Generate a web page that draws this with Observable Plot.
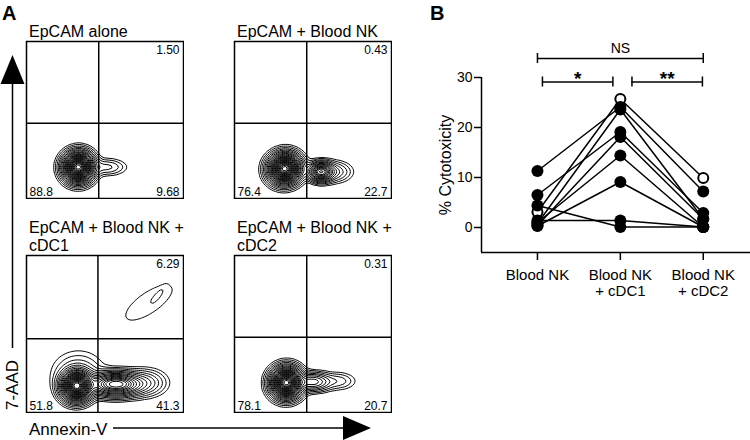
<!DOCTYPE html>
<html><head><meta charset="utf-8">
<script src="https://cdn.jsdelivr.net/npm/d3@7"></script>
<script src="https://cdn.jsdelivr.net/npm/@observablehq/plot@0.6"></script>
<style>
body{margin:0;background:#fff}
#fig{position:relative;width:750px;height:440px;overflow:hidden;font-family:"Liberation Sans",Arial,sans-serif;background:#fff}
#fig > svg{position:absolute}
</style></head>
<body><div id="fig"></div>
<script>
// ---------- Panel A data ----------
const panelTitles = [["EpCAM alone"], ["EpCAM + Blood NK"], ["EpCAM + Blood NK +", "cDC1"], ["EpCAM + Blood NK +", "cDC2"]];
const pctUpperRight = ["1.50", "0.43", "6.29", "0.31"];
const pctLowerLeft = ["88.8", "76.4", "51.8", "78.1"];
const pctLowerRight = ["9.68", "22.7", "41.3", "20.7"];
const gateAnnexin = [0.46, 0.46, 0.455, 0.46];   // quadrant gate (relative Annexin-V)
const gate7AAD = [0.48, 0.48, 0.47, 0.48];       // quadrant gate (relative 7-AAD)
// cell populations: [annexin, 7aad, spreadX, spreadY, weight, angle]
const popsAlone = [[0.33, 0.20, 0.048, 0.047, 1, 0.3], [0.51, 0.20, 0.065, 0.028, 0.035, 0]];
const popsNK = [[0.32, 0.19, 0.051, 0.047, 1, 0.2], [0.55, 0.17, 0.04, 0.03, 0.4, 0], [0.63, 0.17, 0.06, 0.035, 0.05, 0]];
const popsCDC1 = [[0.32, 0.17, 0.049, 0.047, 1, 0.2], [0.57, 0.18, 0.09, 0.038, 0.45, 0], [0.33, 0.25, 0.09, 0.075, 0.03, 0],
                  [0.76, 0.19, 0.07, 0.045, 0.05, 0], [0.78, 0.70, 0.16, 0.06, 0.009, 0.6], [0.84, 0.75, 0.04, 0.012, 0.006, 0.9]];
const popsCDC2 = [[0.33, 0.19, 0.049, 0.048, 1, 0.3], [0.5, 0.195, 0.06, 0.03, 0.14, 0], [0.66, 0.2, 0.06, 0.03, 0.025, 0]];
const populations = [popsAlone, popsNK, popsCDC1, popsCDC2];

// ---------- Panel B data ----------
const groups = ["Blood NK", "Blood NK\n+ cDC1", "Blood NK\n+ cDC2"];
const bloodNK  = [3.1, 11.3, 0.8, 6.5, 0.4, 1.0, 0.3, 4.4, 1.4];
const withCDC1 = [25.7, 24.1, 23.6, 19.1, 18.1, 14.4, 9.1, 0.1, 1.4];
const withCDC2 = [9.9, 7.2, 1.7, 2.9, 1.7, 0.1, 0.1, 0.1, 0.1];
const openDonor = [true, false, false, false, false, false, false, false, false];
const comparisons = [[0, 2, "NS"], [0, 1, "*"], [1, 2, "**"]];
const yTicks = [0, 10, 20, 30];

const fig = document.getElementById("fig");
const FONT = '"Liberation Sans", Arial, sans-serif';

// ---------- Panel A: contour plots ----------
const boxes = [[26, 41], [234, 41], [26, 255], [234, 255]];
const BOX = 157;
const T = [0.005, 0.01, 0.018, 0.03, 0.045, 0.065, 0.09, 0.12, 0.15, 0.19, 0.23, 0.27, 0.31, 0.35, 0.4, 0.45,
           0.5, 0.55, 0.6, 0.65, 0.7, 0.75, 0.8, 0.85, 0.9, 0.95];

populations.forEach((pops, i) => {
  const field = (x, y) => pops.reduce((s, [cx, cy, sx, sy, w, a]) => {
    const c = Math.cos(a), sn = Math.sin(a), dx = x - cx, dy = y - cy;
    const u = dx * c + dy * sn, v = -dx * sn + dy * c;
    return s + w * Math.exp(-0.5 * (u * u / (sx * sx) + v * v / (sy * sy)));
  }, 0);
  const svg = Plot.plot({
    width: BOX + 2, height: BOX + 2, margin: 1,
    style: {fontFamily: FONT, background: "transparent"},
    x: {domain: [0, 1], axis: null},
    y: {domain: [0, 1], axis: null},
    marks: [
      Plot.contour({x1: 0, y1: 0, x2: 1, y2: 1, value: field, thresholds: T, stroke: "black", strokeWidth: 1, fill: "none"}),
      Plot.ruleX([gateAnnexin[i]], {stroke: "black", strokeWidth: 1.5}),
      Plot.ruleY([gate7AAD[i]], {stroke: "black", strokeWidth: 1.5}),
      Plot.frame({stroke: "black", strokeWidth: 1.5}),
      Plot.text([pctUpperRight[i]], {frameAnchor: "top-right", dx: -4, dy: 4, fontSize: 12, fill: "black"}),
      Plot.text([pctLowerLeft[i]], {frameAnchor: "bottom-left", dx: 3, dy: -3, fontSize: 12, fill: "black", lineAnchor: "bottom"}),
      Plot.text([pctLowerRight[i]], {frameAnchor: "bottom-right", dx: -4, dy: -3, fontSize: 12, fill: "black", lineAnchor: "bottom"})
    ]
  });
  svg.style.left = (boxes[i][0] - 1) + "px";
  svg.style.top = (boxes[i][1] - 1) + "px";
  svg.style.position = "absolute";
  fig.appendChild(svg);
});

// ---------- Panel B: paired dot plot ----------
const rows = [];
[bloodNK, withCDC1, withCDC2].forEach((vals, g) => vals.forEach((v, d) => rows.push({donor: d, g, v, open: openDonor[d]})));
const xDom = [-0.675, 2.57];
const yBase = -5;
const brackets = comparisons.map(([a, b, label]) => {
  const adj = b - a === 1;
  const x1 = a + (adj ? 0.06 + 0.08 * a : 0);
  const x2 = b - (adj ? 0.09 - 0.08 * a : 0);
  return {x1, x2, y: adj ? 29.1 : 33.8, label, adj};
});
const caps = brackets.flatMap(b => [{x: b.x1, y: b.y}, {x: b.x2, y: b.y}]);

const plotB = Plot.plot({
  width: 330, height: 300,
  marginLeft: 61, marginRight: 0, marginTop: 27, marginBottom: 48,
  style: {fontFamily: FONT, fontSize: "14px", background: "transparent", color: "black"},
  x: {domain: xDom, axis: null},
  y: {domain: [yBase, 40]},
  marks: [
    Plot.axisY({ticks: yTicks, tickSize: 7, tickPadding: 2, label: null, fontSize: 14, strokeWidth: 1.5}),
    Plot.ruleX([xDom[0]], {y1: yBase, y2: 30, stroke: "black", strokeWidth: 1.5}),
    Plot.ruleY([yBase], {x1: xDom[0], x2: xDom[1], stroke: "black", strokeWidth: 1.5}),
    Plot.ruleX([0, 1, 2], {y1: yBase, y2: yBase - 1.6, stroke: "black", strokeWidth: 1.5}),
    Plot.text(groups, {x: (d, i) => i, y: yBase, text: d => d, dy: 15, lineAnchor: "top", fontSize: 15, lineHeight: 1.13, fill: "black"}),
    Plot.line(rows, {x: "g", y: "v", z: "donor", stroke: "black", strokeWidth: 1.5}),
    Plot.dot(rows.filter(d => d.open), {x: "g", y: "v", r: 5, fill: "white", stroke: "black", strokeWidth: 2}),
    Plot.dot(rows.filter(d => !d.open), {x: "g", y: "v", r: 6, fill: "black"}),
    Plot.ruleY(brackets, {y: "y", x1: "x1", x2: "x2", stroke: "black", strokeWidth: 1.5}),
    Plot.ruleX(caps, {x: "x", y1: d => d.y - 1, y2: d => d.y + 1, stroke: "black", strokeWidth: 1.5}),
    Plot.text(brackets.filter(b => !b.adj), {x: b => (b.x1 + b.x2) / 2, y: "y", text: "label", dy: -10, fontSize: 14, fill: "black"}),
    Plot.text(brackets.filter(b => b.adj), {x: b => (b.x1 + b.x2) / 2, y: "y", text: "label", dy: -3, fontSize: 19, fontWeight: "bold", fill: "black"})
  ]
});
plotB.style.left = "420px";
plotB.style.top = "0px";
plotB.style.position = "absolute";
fig.appendChild(plotB);

// ---------- overlay: panel letters, titles, axis arrows ----------
const titleSvg = panelTitles.map((lines, i) => {
  const [bx, by] = boxes[i];
  const base = lines.length === 1 ? by - 4 : by - 22;
  return lines.map((t, k) => `<text x="${bx + 3}" y="${base + k * 18}" font-size="16">${t}</text>`).join("");
}).join("");
const overlay = `
<svg width="750" height="440" style="position:absolute;left:0;top:0;pointer-events:none" font-family='${FONT}' fill="black">
  <text x="2" y="20" font-size="20" font-weight="bold">A</text>
  <text x="430" y="20" font-size="20" font-weight="bold">B</text>
  ${titleSvg}
  <line x1="12.5" y1="348" x2="12.5" y2="80" stroke="black" stroke-width="1.5"/>
  <polygon points="12.5,55 0.5,84 24.5,84" fill="black"/>
  <text transform="translate(18,410) rotate(-90)" font-size="17">7-AAD</text>
  <text x="29" y="435" font-size="17">Annexin-V</text>
  <line x1="113" y1="428" x2="350" y2="428" stroke="black" stroke-width="1.5"/>
  <polygon points="371,428 343,416 343,440" fill="black"/>
  <text transform="translate(451,165) rotate(-90)" font-size="16" text-anchor="middle">% Cytotoxicity</text>
</svg>`;
fig.insertAdjacentHTML("beforeend", overlay);
</script>
</body></html>
